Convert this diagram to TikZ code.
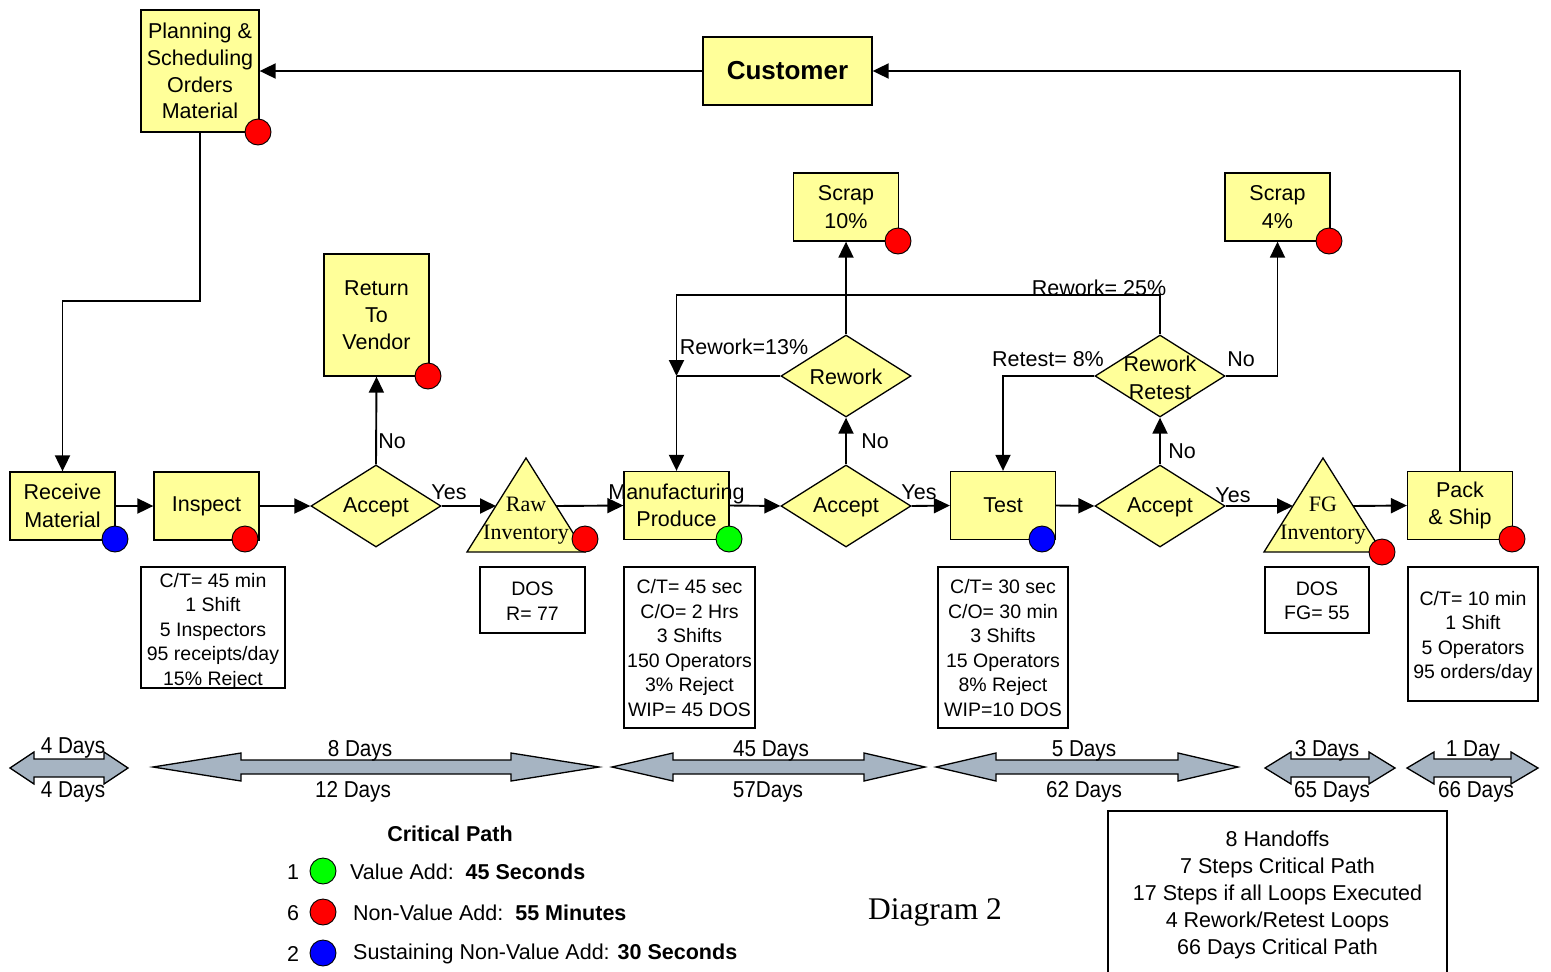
\documentclass[tikz,border=0pt]{standalone}
\usepackage{fontspec}
\setmainfont{Liberation Sans}
\newfontfamily\seriffont{Liberation Serif}
\usepackage{graphicx}
\usetikzlibrary{shapes.geometric,arrows.meta}
\definecolor{boxyellow}{RGB}{255,255,153}
\definecolor{arrowgray}{RGB}{166,180,194}
\definecolor{dotred}{RGB}{255,0,0}
\definecolor{dotgreen}{RGB}{0,255,0}
\definecolor{dotblue}{RGB}{0,0,255}
\tikzset{
 proc/.style={draw, line width=1.3pt, fill=boxyellow, minimum width=105pt, minimum height=68pt, inner sep=0pt, align=center, font=\fontsize{21.5}{27.5}\selectfont},
 dec/.style={draw, line width=1.3pt, fill=boxyellow, diamond, minimum width=130pt, minimum height=82pt, inner sep=0pt},
 info/.style={draw, line width=1.3pt, fill=white, inner sep=0pt, align=center, font=\fontsize{19.5}{24.5}\selectfont},
 infotxt/.style={inner sep=0pt, align=center, font=\fontsize{19.5}{24.5}\selectfont},
 dot/.style={circle, draw, line width=0.9pt, minimum size=26pt, inner sep=0pt},
 conn/.style={line width=1.9pt},
 arr/.style={conn, -{Triangle[length=16pt,width=15pt]}},
 lbl/.style={font=\fontsize{21.5}{26}\selectfont, inner sep=0pt},
 dtxt/.style={font=\fontsize{23}{26}\selectfont, inner sep=0pt},
 blk/.style={draw, line width=1.3pt, fill=arrowgray, line join=miter},
 tri/.style={draw, line width=1.3pt, fill=boxyellow, line join=miter},
 trilbl/.style={font=\seriffont\fontsize{22}{28}\selectfont, align=center, inner sep=0pt},
}
\newcommand{\blockarr}[6]{% x1, x2, head length, y centre, shaft half, head half
 \draw[blk] (#1,#4) -- (#1+#3,#4-#6) -- (#1+#3,#4-#5) -- (#2-#3,#4-#5) -- (#2-#3,#4-#6) -- (#2,#4)
   -- (#2-#3,#4+#6) -- (#2-#3,#4+#5) -- (#1+#3,#4+#5) -- (#1+#3,#4+#6) -- cycle;}
\newcommand{\dlab}[1]{\scalebox{0.9}[1]{#1}}
\begin{document}
\begin{tikzpicture}[x=1pt,y=-1pt]
\useasboundingbox (0,0) rectangle (1551,972);
\fill[white] (0,0) rectangle (1551,972);

% ---- process boxes
\node[proc, minimum width=118pt, minimum height=122pt, font=\fontsize{21.5}{26.7}\selectfont] (plan) at (200,71) {Planning \&\\Scheduling\\Orders\\Material};
\node[proc, minimum width=169pt, minimum height=68pt, font=\bfseries\fontsize{26}{30}\selectfont] (cust) at (787.5,71) {Customer};
\node[proc] (recv) at (62.5,506) {Receive\\Material};
\node[proc] (insp) at (206.5,506) {Inspect};
\node[proc, minimum height=122pt, font=\fontsize{21.5}{27}\selectfont] (rtv) at (376.5,315) {Return\\To\\Vendor};
\node[proc] (mfg) at (676.5,505.5) {\makebox[0pt]{Manufacturing}\\Produce};
\node[proc] (test) at (1003,505.5) {Test};
\node[proc] (pack) at (1460,505.5) {Pack\\\& Ship};
\node[proc] (scrapA) at (846,207) {Scrap\\10\%};
\node[proc] (scrapB) at (1277.5,207) {Scrap\\4\%};

% ---- decisions
\node[dec] (acc1) at (376,506) {};
\node[lbl] (acc1t) at (376,507) {Accept};
\node[dec] (acc2) at (846,506) {};
\node[lbl] (acc2t) at (846,507) {Accept};
\node[dec] (rew) at (846,376) {};
\node[lbl] (rewt) at (846,377) {Rework};
\node[dec] (acc3) at (1160,506) {};
\node[lbl] (acc3t) at (1160,507) {Accept};
\node[dec] (rrt) at (1160,376) {};
\node[lbl, align=center, font=\fontsize{21.5}{28}\selectfont] (rrtt) at (1160,378) {Rework\\Retest};

% ---- inventory triangles
\draw[tri] (526,458) -- (585,552) -- (467,552) -- cycle;
\coordinate (rawL) at (496,506);
\coordinate (rawR) at (556,506);
\node[trilbl] (rawt) at (526,521) {Raw\\Inventory};
\draw[tri] (1323,458) -- (1382,552) -- (1264,552) -- cycle;
\coordinate (fgL) at (1293,506);
\coordinate (fgR) at (1353,506);
\node[trilbl] (fgt) at (1323,521) {FG\\Inventory};

% ---- info boxes
\node[info, minimum width=144pt, minimum height=121pt] (i1) at (213,627.5) {};
\node[infotxt] (i1t) at (213,631) {C/T= 45 min\\1 Shift\\5 Inspectors\\95 receipts/day\\15\% Reject};
\node[info, minimum width=105pt, minimum height=66pt] (i2) at (532.5,600) {};
\node[infotxt] (i2t) at (532.5,601) {DOS\\R= 77};
\node[info, minimum width=131pt, minimum height=161pt] (i3) at (689.5,647.5) {};
\node[infotxt] (i3t) at (689.5,648) {C/T= 45 sec\\C/O= 2 Hrs\\3 Shifts\\150 Operators\\3\% Reject\\WIP= 45 DOS};
\node[info, minimum width=130pt, minimum height=161pt] (i4) at (1003,647.5) {};
\node[infotxt] (i4t) at (1003,648) {C/T= 30 sec\\C/O= 30 min\\3 Shifts\\15 Operators\\8\% Reject\\WIP=10 DOS};
\node[info, minimum width=104pt, minimum height=66pt] (i5) at (1317,600) {};
\node[infotxt] (i5t) at (1317,601) {DOS\\FG= 55};
\node[info, minimum width=130pt, minimum height=134pt] (i6) at (1473,634) {};
\node[infotxt] (i6t) at (1473,637) {C/T= 10 min\\1 Shift\\5 Operators\\95 orders/day};

% ---- connectors
\coordinate (c1) at (62.5,301);
\coordinate (top25) at (676.5,295);
\coordinate (j1) at (676.5,376);
\draw[arr] (cust.west) -- (plan.east);
\draw[arr] (pack.north) |- (cust.east);
\draw[arr] (plan.south) |- (c1) -- (recv.north);
\draw[arr] (recv.east) -- (insp.west);
\draw[arr] (insp.east) -- (acc1.west);
\draw[arr] (acc1.east) -- (rawL);
\draw[arr] (acc1.north) -- (rtv.south);
\draw[arr] (rawR) -- (mfg.west);
\draw[arr] (mfg.east) -- (acc2.west);
\draw[arr] (acc2.east) -- (test.west);
\draw[arr] (acc2.north) -- (rew.south);
\draw[arr] (rew.north) -- (scrapA.south);
\draw[conn] (rew.west) -- (j1);
\draw[arr] (j1) -- (mfg.north);
\draw[arr] (rrt.north) |- (top25) -- (j1);
\draw[arr] (test.east) -- (acc3.west);
\draw[arr] (acc3.north) -- (rrt.south);
\draw[arr] (rrt.west) -| (test.north);
\draw[arr] (rrt.east) -| (scrapB.south);
\draw[arr] (acc3.east) -- (fgL);
\draw[arr] (fgR) -- (pack.west);

% ---- dots
\node[dot, fill=dotred] (dplan) at (258,132) {};
\node[dot, fill=dotred] (drtv) at (428,376) {};
\node[dot, fill=dotblue] (drecv) at (115,539) {};
\node[dot, fill=dotred] (dinsp) at (245,539) {};
\node[dot, fill=dotred] (draw) at (585,539) {};
\node[dot, fill=dotgreen] (dmfg) at (729,539) {};
\node[dot, fill=dotred] (dscA) at (898,241) {};
\node[dot, fill=dotblue] (dtest) at (1042,539) {};
\node[dot, fill=dotred] (dscB) at (1329,241) {};
\node[dot, fill=dotred] (dfg) at (1382,552) {};
\node[dot, fill=dotred] (dpack) at (1512,539) {};

% ---- connector labels
\node[lbl] (l1) at (449,492) {Yes};
\node[lbl] (l2) at (392,441) {No};
\node[lbl] (l3) at (744,347) {Rework=13\%};
\node[lbl] (l4) at (1099,288) {Rework= 25\%};
\node[lbl] (l5) at (875,441) {No};
\node[lbl] (l6) at (919,492) {Yes};
\node[lbl] (l7) at (1048,359) {Retest= 8\%};
\node[lbl] (l8) at (1241,359) {No};
\node[lbl] (l9) at (1182,451) {No};
\node[lbl] (l10) at (1233,495) {Yes};

% ---- time line block arrows
\blockarr{10}{128}{24}{768}{9}{16}
\blockarr{153}{599}{88}{767}{7}{14}
\blockarr{612}{925}{61}{767}{7}{14}
\blockarr{936}{1238}{60}{767}{7}{14}
\blockarr{1265}{1395}{26}{768}{9}{16}
\blockarr{1407}{1538}{27}{768}{9}{16}
\node[dtxt] (t1a) at (73,748) {\dlab{4 Days}};
\node[dtxt] (t1b) at (73,792) {\dlab{4 Days}};
\node[dtxt] (t2a) at (360,751) {\dlab{8 Days}};
\node[dtxt] (t2b) at (353,792) {\dlab{12 Days}};
\node[dtxt] (t3a) at (771,751) {\dlab{45 Days}};
\node[dtxt] (t3b) at (768,792) {\dlab{57Days}};
\node[dtxt] (t4a) at (1084,751) {\dlab{5 Days}};
\node[dtxt] (t4b) at (1084,792) {\dlab{62 Days}};
\node[dtxt] (t5a) at (1327,751) {\dlab{3 Days}};
\node[dtxt] (t5b) at (1332,792) {\dlab{65 Days}};
\node[dtxt] (t6a) at (1473,751) {\dlab{1 Day}};
\node[dtxt] (t6b) at (1476,792) {\dlab{66 Days}};

% ---- legend
\node[lbl, font=\bfseries\fontsize{21.5}{26}\selectfont] (cp) at (450,834) {Critical Path};
\node[lbl] (n1) at (293,872) {1};
\node[dot, fill=dotgreen] (g1) at (323,871) {};
\node[lbl, anchor=west] (v1) at (350,872) {Value Add:\ \ \textbf{45 Seconds}};
\node[lbl] (n6) at (293,913) {6};
\node[dot, fill=dotred] (r1) at (323,912) {};
\node[lbl, anchor=west] (v2) at (353,913) {Non-Value Add:\ \ \textbf{55 Minutes}};
\node[lbl] (n2) at (293,954) {2};
\node[dot, fill=dotblue] (b1) at (323,953) {};
\node[lbl, anchor=west] (v3) at (353,954) {Sustaining Non-Value Add: \textbf{30 Seconds}};

\node[font=\seriffont\fontsize{31.5}{36}\selectfont, inner sep=0pt] (diag) at (935,912) {Diagram 2};

% ---- summary
\draw[line width=1.3pt] (1108,972) -- (1108,811) -- (1447,811) -- (1447,972);
\node[lbl, align=center, font=\fontsize{21.5}{27}\selectfont] (sum) at (1277.5,895) {8 Handoffs\\7 Steps Critical Path\\17 Steps if all Loops Executed\\4 Rework/Retest Loops\\66 Days Critical Path};
\end{tikzpicture}
\end{document}
